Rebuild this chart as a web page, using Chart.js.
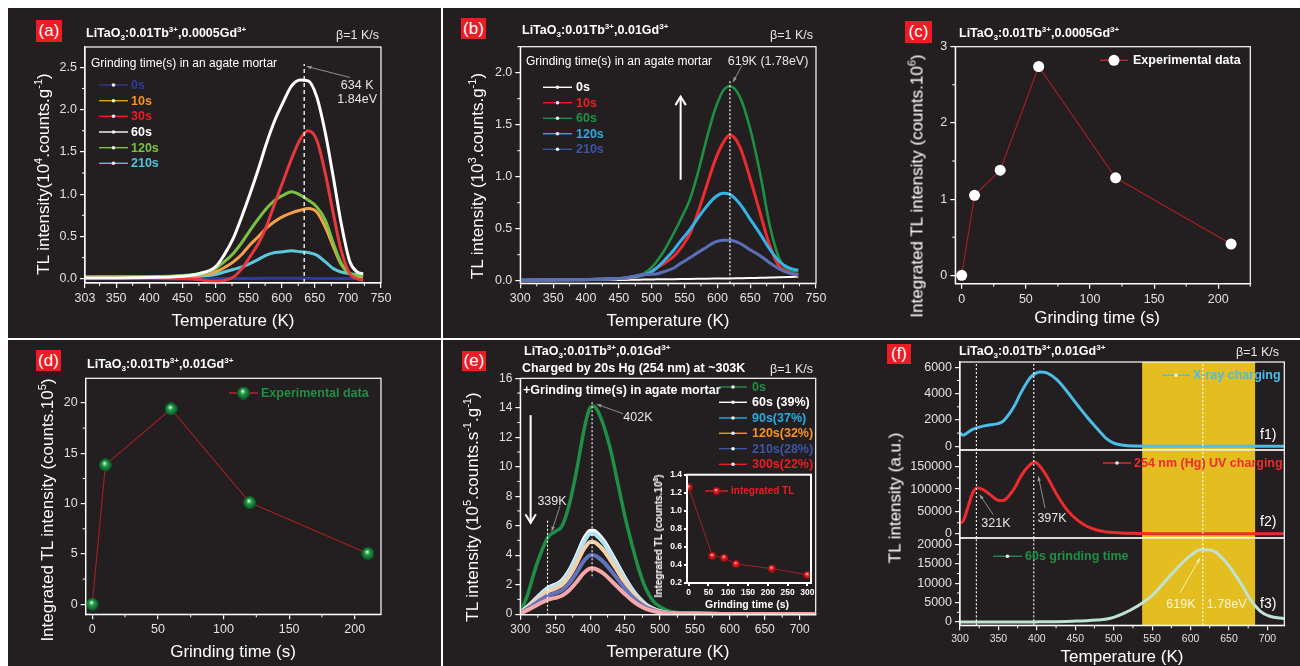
<!DOCTYPE html>
<html>
<head>
<meta charset="utf-8">
<script src="https://cdn.jsdelivr.net/npm/chart.js@4.4.1/dist/chart.umd.min.js"></script>
<style>
  html, body { margin: 0; padding: 0; background: #fff; }
  #fig { position: relative; width: 1300px; height: 666px; background: #fff; overflow: hidden;
    font-family: "Liberation Sans", Arial, Helvetica, sans-serif; }
  .blk { position: absolute; background: #231f20; }
  canvas { position: absolute; left: 0; top: 0; }
  .t { position: absolute; white-space: nowrap; line-height: 1; color: #fff; transform: translateY(-50%); }
  .r { transform: translate(-100%, -50%); }
  .c { transform: translate(-50%, -50%); }
  .yl { position: absolute; white-space: nowrap; line-height: 1; color: #fff; font-size: 17px;
    transform: translate(-50%, -50%) rotate(-90deg); }
  .xl { font-size: 17px; }
  .ttl { font-weight: bold; font-size: 12.5px; }
  .beta { font-size: 12.5px; color: #e8e8e8; }
  .lab { position: absolute; background: #ed1c24; color: #fff; font-size: 17px; text-align: center; }
  sup, sub { font-size: 65%; line-height: 0; }
</style>
</head>
<body>
<div id="fig">
  <div class="blk" style="left:8px;top:8px;width:433px;height:330px"></div>
  <div class="blk" style="left:443px;top:8px;width:857px;height:330px"></div>
  <div class="blk" style="left:8px;top:339.5px;width:433px;height:326.5px"></div>
  <div class="blk" style="left:443px;top:339.5px;width:857px;height:326.5px"></div>

  <canvas id="cA" width="1300" height="666"></canvas>
  <canvas id="cB" width="1300" height="666"></canvas>
  <canvas id="cC" width="1300" height="666"></canvas>
  <canvas id="cD" width="1300" height="666"></canvas>
  <canvas id="cE" width="1300" height="666"></canvas>
  <canvas id="cEi" width="1300" height="666"></canvas>
  <canvas id="cF1" width="1300" height="666"></canvas>
  <canvas id="cF2" width="1300" height="666"></canvas>
  <canvas id="cF3" width="1300" height="666"></canvas>

  <!-- (a) -->
  <div class="lab" style="left:36px;top:20px;width:26px;height:22px;line-height:22px">(a)</div>
  <div class="t ttl" style="left:86px;top:33px">LiTaO<sub>3</sub>:0.01Tb<sup>3+</sup>,0.0005Gd<sup>3+</sup></div>
  <div class="t r beta" style="left:379px;top:35px">β=1 K/s</div>
  <div class="yl" style="left:43px;top:174px">TL intensity(10<sup>4</sup>.counts.g<sup>-1</sup>)</div>
  <div class="t c xl" style="left:233px;top:320px">Temperature (K)</div>
  <div class="t" style="left:91px;top:63px;font-size:12px">Grinding time(s) in an agate mortar</div>

  <!-- (b) -->
  <div class="lab" style="left:461px;top:18px;width:25px;height:21px;line-height:21px">(b)</div>
  <div class="t ttl" style="left:522px;top:30px">LiTaO<sub>3</sub>:0.01Tb<sup>3+</sup>,0.01Gd<sup>3+</sup></div>
  <div class="t r beta" style="left:813px;top:35px">β=1 K/s</div>
  <div class="yl" style="left:477px;top:176px">TL intensity (10<sup>3</sup>.counts.g<sup>-1</sup>)</div>
  <div class="t c xl" style="left:668px;top:320px">Temperature (K)</div>
  <div class="t" style="left:526px;top:61px;font-size:12px">Grinding time(s) in an agate mortar</div>

  <!-- (c) -->
  <div class="lab" style="left:905px;top:21px;width:27px;height:22px;line-height:22px">(c)</div>
  <div class="t ttl" style="left:959px;top:33px">LiTaO<sub>3</sub>:0.01Tb<sup>3+</sup>,0.0005Gd<sup>3+</sup></div>
  <div class="yl" style="left:917px;top:186px">Integrated TL intensity (counts.10<sup>6</sup>)</div>
  <div class="t c xl" style="left:1097px;top:317px">Grinding time (s)</div>

  <!-- (d) -->
  <div class="lab" style="left:36px;top:350px;width:25px;height:21px;line-height:21px">(d)</div>
  <div class="t ttl" style="left:87px;top:364px">LiTaO<sub>3</sub>:0.01Tb<sup>3+</sup>,0.01Gd<sup>3+</sup></div>
  <div class="yl" style="left:47px;top:510px">Integrated TL intensity (counts.10<sup>5</sup>)</div>
  <div class="t c xl" style="left:233px;top:651px">Grinding time (s)</div>

  <!-- (e) -->
  <div class="lab" style="left:462px;top:351px;width:24px;height:20px;line-height:20px">(e)</div>
  <div class="t ttl" style="left:524px;top:351px">LiTaO<sub>3</sub>:0.01Tb<sup>3+</sup>,0.01Gd<sup>3+</sup></div>
  <div class="t ttl" style="left:522px;top:368px">Charged by 20s Hg (254 nm) at ~303K</div>
  <div class="t r beta" style="left:813px;top:369px">β=1 K/s</div>
  <div class="yl" style="left:472px;top:507px">TL intensity (10<sup>5</sup>.counts.s<sup>-1</sup>.g<sup>-1</sup>)</div>
  <div class="t c xl" style="left:668px;top:651px">Temperature (K)</div>
  <div class="t ttl" style="left:523px;top:390px">+Grinding time(s) in agate mortar</div>
  <div class="yl" style="left:659px;top:536px;font-size:10px;font-weight:bold">Integrated TL (counts.10<sup>8</sup>)</div>
  <div class="t c" style="left:747px;top:604px;font-size:10.5px;font-weight:bold">Grinding time (s)</div>

  <!-- (f) -->
  <div class="lab" style="left:887px;top:344px;width:24px;height:20px;line-height:20px">(f)</div>
  <div class="t ttl" style="left:959px;top:351px">LiTaO<sub>3</sub>:0.01Tb<sup>3+</sup>,0.01Gd<sup>3+</sup></div>
  <div class="t r beta" style="left:1279px;top:352px">β=1 K/s</div>
  <div class="yl" style="left:895px;top:498px">TL intensity (a.u.)</div>
  <div class="t c xl" style="left:1122px;top:656px">Temperature (K)</div>
  <div class="t" style="left:1260px;top:434px;font-size:14px">f1)</div>
  <div class="t" style="left:1260px;top:521px;font-size:14px">f2)</div>
  <div class="t" style="left:1260px;top:603px;font-size:14px">f3)</div>
</div>

<script>
// (a) LiTaO3:0.01Tb,0.0005Gd - TL glow curves, 10^4 counts/g
const tA = [303, 350, 400, 450, 475, 500, 513, 527, 540, 552, 565, 577, 590, 603, 615, 628, 640, 653, 666, 678, 690, 703, 714, 723];
const a0s = [0, 0, 0, 0, 0, 0.002, 0.003, 0.003, 0.004, 0.004, 0.005, 0.005, 0.005, 0.005, 0.005, 0.005, 0.005, 0.004, 0.004, 0.004, 0.003, 0.003, 0.002, 0.002];
const a10s = [0.02, 0.02, 0.02, 0.025, 0.04, 0.08, 0.13, 0.2, 0.29, 0.4, 0.5, 0.6, 0.68, 0.74, 0.78, 0.81, 0.83, 0.79, 0.61, 0.38, 0.17, 0.06, 0.03, 0.02];
const a30s = [0.01, 0.01, 0.005, 0, -0.01, -0.03, -0.02, 0.02, 0.12, 0.26, 0.42, 0.62, 0.9, 1.17, 1.42, 1.65, 1.75, 1.64, 1.24, 0.77, 0.33, 0.06, 0, -0.02];
const a60s = [0.01, 0.01, 0.015, 0.03, 0.06, 0.14, 0.28, 0.48, 0.74, 1.0, 1.3, 1.6, 1.88, 2.1, 2.28, 2.35, 2.34, 2.15, 1.72, 1.2, 0.65, 0.2, 0.08, 0.06];
const a120s = [0.015, 0.02, 0.025, 0.04, 0.06, 0.12, 0.2, 0.3, 0.43, 0.57, 0.71, 0.83, 0.93, 0.99, 1.03, 0.99, 0.93, 0.85, 0.69, 0.42, 0.18, 0.06, 0.04, 0.04];
const a210s = [0.02, 0.02, 0.02, 0.025, 0.03, 0.05, 0.08, 0.11, 0.14, 0.18, 0.23, 0.28, 0.31, 0.32, 0.33, 0.32, 0.31, 0.28, 0.2, 0.12, 0.08, 0.06, 0.05, 0.04];
const aXTicks = [303, 350, 400, 450, 500, 550, 600, 650, 700, 750];
const aYTicks = [0, 0.5, 1, 1.5, 2, 2.5];

// (b) LiTaO3:0.01Tb,0.01Gd - TL glow curves, 10^3 counts/g
const tB = [300, 350, 400, 450, 470, 482, 495, 507, 520, 533, 545, 558, 570, 583, 596, 609, 619, 634, 649, 665, 680, 695, 710, 723];
const b0s = [0.005, 0.005, 0.006, 0.007, 0.008, 0.01, 0.012, 0.013, 0.014, 0.015, 0.016, 0.017, 0.018, 0.019, 0.02, 0.021, 0.022, 0.024, 0.026, 0.028, 0.03, 0.032, 0.035, 0.038];
const b10s = [0.005, 0.008, 0.01, 0.02, 0.03, 0.05, 0.07, 0.12, 0.17, 0.23, 0.32, 0.45, 0.65, 0.9, 1.15, 1.33, 1.4, 1.29, 1.0, 0.65, 0.33, 0.13, 0.08, 0.05];
const b60s = [0.005, 0.008, 0.01, 0.02, 0.03, 0.05, 0.1, 0.18, 0.3, 0.45, 0.6, 0.78, 1.03, 1.35, 1.64, 1.83, 1.87, 1.77, 1.48, 1.03, 0.52, 0.2, 0.1, 0.09];
const b120s = [0.005, 0.008, 0.01, 0.02, 0.035, 0.05, 0.07, 0.12, 0.2, 0.29, 0.39, 0.49, 0.6, 0.71, 0.8, 0.84, 0.83, 0.74, 0.6, 0.45, 0.3, 0.18, 0.12, 0.1];
const b210s = [0.005, 0.008, 0.012, 0.02, 0.04, 0.055, 0.06, 0.065, 0.09, 0.12, 0.17, 0.22, 0.27, 0.32, 0.37, 0.39, 0.39, 0.36, 0.3, 0.24, 0.17, 0.11, 0.07, 0.06];
const bXTicks = [300, 350, 400, 450, 500, 550, 600, 650, 700, 750];
const bYTicks = [0, 0.5, 1, 1.5, 2];

// (c) integrated TL, 10^6 counts
const cTime = [0, 10, 30, 60, 120, 210];
const cVal = [0, 1.05, 1.38, 2.74, 1.28, 0.41];
const cXTicks = [0, 50, 100, 150, 200];
const cYTicks = [0, 1, 2, 3];

// (d) integrated TL, 10^5 counts
const dTime = [0, 10, 60, 120, 210];
const dVal = [0, 13.84, 19.4, 10.1, 5.03];
const dXTicks = [0, 50, 100, 150, 200];
const dYTicks = [0, 5, 10, 15, 20];

// (e) UV charged + grinding, 10^5 counts/s/g
const tE = [300, 310, 320, 330, 340, 350, 360, 370, 380, 390, 395, 400, 405, 410, 420, 430, 440, 450, 460, 470, 480, 490, 500, 510, 525, 550, 600, 650, 700, 723];
const e0s = [0.1, 1.25, 2.85, 4.2, 5.25, 5.6, 6.0, 7.4, 9.6, 12.2, 13.3, 14.0, 14.1, 13.85, 12.7, 11.0, 8.8, 6.6, 4.7, 3.0, 1.7, 0.9, 0.5, 0.25, 0.1, 0.05, 0.02, 0.01, 0.01, 0.01];
const e60s = [0.1, 0.5, 0.95, 1.4, 1.8, 2.0, 2.3, 2.95, 3.9, 5.0, 5.4, 5.65, 5.65, 5.5, 4.95, 4.15, 3.3, 2.45, 1.7, 1.1, 0.65, 0.38, 0.2, 0.1, 0.05, 0.02, 0.01, 0, 0, 0];
const e90s = [0.1, 0.48, 0.92, 1.35, 1.74, 1.93, 2.22, 2.85, 3.76, 4.82, 5.2, 5.45, 5.45, 5.3, 4.78, 4.0, 3.18, 2.36, 1.64, 1.06, 0.63, 0.37, 0.19, 0.1, 0.05, 0.02, 0.01, 0, 0, 0];
const e120s = [0.09, 0.43, 0.82, 1.2, 1.55, 1.73, 1.99, 2.56, 3.38, 4.33, 4.68, 4.9, 4.9, 4.77, 4.29, 3.6, 2.86, 2.12, 1.47, 0.95, 0.56, 0.33, 0.17, 0.09, 0.04, 0.02, 0.01, 0, 0, 0];
const e210s = [0.07, 0.35, 0.67, 0.99, 1.27, 1.42, 1.63, 2.09, 2.76, 3.54, 3.82, 4.0, 4.0, 3.89, 3.5, 2.94, 2.34, 1.73, 1.2, 0.78, 0.46, 0.27, 0.14, 0.07, 0.04, 0.01, 0.01, 0, 0, 0];
const e300s = [0.05, 0.27, 0.52, 0.77, 0.99, 1.1, 1.26, 1.62, 2.14, 2.75, 2.96, 3.1, 3.1, 3.02, 2.72, 2.28, 1.81, 1.35, 0.93, 0.6, 0.36, 0.21, 0.11, 0.05, 0.03, 0.01, 0, 0, 0, 0];
const eXTicks = [300, 350, 400, 450, 500, 550, 600, 650, 700];
const eYTicks = [0, 2, 4, 6, 8, 10, 12, 14, 16];
// (e) inset: integrated TL, 10^8 counts
const eiTime = [0, 60, 90, 120, 210, 300];
const eiVal = [1.26, 0.50, 0.48, 0.41, 0.36, 0.29];
const eiXTicks = [0, 50, 100, 150, 200, 250, 300];
const eiYTicks = [0.2, 0.4, 0.6, 0.8, 1.0, 1.2, 1.4];

// (f) X-ray / UV / grinding, a.u.
const tF = [300, 304, 310, 317, 323, 330, 340, 348, 356, 365, 372, 378, 385, 391, 397, 404, 413, 426, 439, 452, 465, 478, 491, 500, 513, 530, 550, 575, 600, 615, 630, 647, 665, 678, 691, 703, 722];
const fXray = [1013, 840, 1050, 1300, 1420, 1530, 1640, 1700, 1900, 2530, 3200, 3920, 4650, 5190, 5500, 5645, 5570, 5060, 4180, 3200, 2250, 1380, 560, 250, 80, 20, 0, 0, 0, 0, 0, 0, 0, 0, 0, 0, 0];
const fUV = [24500, 28200, 58000, 93600, 102500, 98800, 86500, 76000, 74300, 87700, 105000, 124800, 143000, 154000, 160500, 150800, 128500, 87700, 54200, 31900, 17100, 8900, 4500, 3000, 1800, 1200, 700, 500, 500, 500, 500, 500, 500, 500, 500, 500, 500];
const fGrind = [0, 0, 0, 0, 0, 0, 0, 0, 0, 0, 0, 0, 0, 10, 20, 30, 50, 80, 150, 250, 330, 500, 780, 1200, 2200, 4000, 6800, 12300, 17200, 18700, 18280, 15260, 10090, 5780, 2760, 1470, 860];
const fXTicks = [300, 350, 400, 450, 500, 550, 600, 650, 700];
const f1YTicks = [0, 2000, 4000, 6000];
const f2YTicks = [0, 50000, 100000, 150000];
const f3YTicks = [0, 5000, 10000, 15000, 20000];

const W = 1300, H = 666;
const FONT = '"Liberation Sans", Arial, Helvetica, sans-serif';
Chart.defaults.font.family = FONT;
Chart.defaults.color = '#e0e0e0';

function xy(t, v) {
  return t.map((x, i) => ({ x: x, y: v[i] }));
}

function curve(t, v, color, w) {
  return { data: xy(t, v), borderColor: color, backgroundColor: color, borderWidth: w || 3,
    pointRadius: 0, cubicInterpolationMode: 'monotone' };
}

// shaded ball marker
function sphere(d, dark, mid, light) {
  const c = document.createElement('canvas');
  c.width = c.height = d;
  const g = c.getContext('2d');
  const r = d / 2;
  const grad = g.createRadialGradient(r * 0.85, r * 0.7, r * 0.05, r, r, r);
  grad.addColorStop(0, light);
  grad.addColorStop(0.35, mid);
  grad.addColorStop(1, dark);
  g.fillStyle = grad;
  g.beginPath();
  g.arc(r, r, r, 0, Math.PI * 2);
  g.fill();
  return c;
}
const greenBall = sphere(13, '#0a5022', '#22a04a', '#f0fff0');
const redBall = sphere(8, '#8c0a0e', '#e8282c', '#ffe0e0');

function scale(min, max, ticks, fmt, fs, fitKey, fitVal, o) {
  o = o || {};
  const s = {
    type: 'linear', min: min, max: max, display: o.display !== false,
    afterBuildTicks: a => { a.ticks = ticks.map(v => ({ value: v })); },
    ticks: { font: { size: fs, weight: o.bold ? 'bold' : 'normal' }, color: o.color || '#e0e0e0',
      padding: o.pad || 3, maxRotation: 0, autoSkip: false, callback: v => (fmt ? fmt(v) : String(v)) },
    grid: { drawOnChartArea: false, color: '#fff', tickLength: o.tl || 5, lineWidth: o.lw || 1.2 },
    border: { color: '#fff', width: o.lw || 1.2 }
  };
  if (fitVal != null) s.afterFit = a => { a[fitKey] = fitVal; };
  return s;
}

function arrow(ctx, x0, y0, x1, y1, color, lw, hs, open) {
  ctx.strokeStyle = color;
  ctx.fillStyle = color;
  ctx.lineWidth = lw;
  ctx.setLineDash([]);
  ctx.beginPath();
  ctx.moveTo(x0, y0);
  ctx.lineTo(x1, y1);
  ctx.stroke();
  const a = Math.atan2(y1 - y0, x1 - x0);
  const sp = open ? 0.55 : 0.35;
  ctx.beginPath();
  ctx.moveTo(x1 - hs * Math.cos(a - sp), y1 - hs * Math.sin(a - sp));
  ctx.lineTo(x1, y1);
  ctx.lineTo(x1 - hs * Math.cos(a + sp), y1 - hs * Math.sin(a + sp));
  if (open) ctx.stroke();
  else { ctx.closePath(); ctx.fill(); }
}

// frame, minor ticks, bands, marker lines, arrows, labels and legends
const deco = {
  id: 'deco',
  beforeDatasetsDraw(chart, args, o) {
    const { ctx, chartArea: a, scales } = chart;
    ctx.save();
    if (o.bg) {
      ctx.fillStyle = o.bg;
      ctx.fillRect(a.left, a.top, a.right - a.left, a.bottom - a.top);
    }
    (o.bands || []).forEach(b => {
      const x0 = scales.x.getPixelForValue(b.x0), x1 = scales.x.getPixelForValue(b.x1);
      ctx.fillStyle = b.color;
      ctx.fillRect(x0, a.top, x1 - x0, a.bottom - a.top);
    });
    ctx.restore();
  },
  afterDraw(chart, args, o) {
    const { ctx, chartArea: a, scales } = chart;
    const sx = scales.x, sy = scales.y;
    ctx.save();
    // vertical marker lines
    (o.vlines || []).forEach(l => {
      const x = sx.getPixelForValue(l.x);
      ctx.strokeStyle = l.color || '#fff';
      ctx.lineWidth = l.w || 1.1;
      ctx.setLineDash(l.dash || [2, 2]);
      ctx.beginPath();
      ctx.moveTo(x, l.y0 == null ? a.bottom : sy.getPixelForValue(l.y0));
      ctx.lineTo(x, l.y1 == null ? a.top : sy.getPixelForValue(l.y1));
      ctx.stroke();
    });
    ctx.setLineDash([]);
    // frame
    ctx.strokeStyle = '#fff';
    ctx.lineWidth = o.fw || 1.2;
    ctx.strokeRect(a.left, a.top, a.right - a.left, a.bottom - a.top);
    // minor ticks
    ctx.lineWidth = 1;
    const isMajor = (s, v) => s.ticks.some(t => Math.abs(t.value - v) < 1e-6);
    if (o.minorX && sx.options.display) {
      for (let v = Math.ceil(sx.min / o.minorX) * o.minorX; v <= sx.max; v += o.minorX) {
        if (isMajor(sx, v)) continue;
        const x = sx.getPixelForValue(v);
        ctx.beginPath(); ctx.moveTo(x, a.bottom); ctx.lineTo(x, a.bottom + 3); ctx.stroke();
      }
    }
    if (o.minorY) {
      for (let v = Math.ceil(sy.min / o.minorY) * o.minorY; v <= sy.max; v += o.minorY) {
        if (isMajor(sy, v)) continue;
        const y = sy.getPixelForValue(v);
        ctx.beginPath(); ctx.moveTo(a.left, y); ctx.lineTo(a.left - 3, y); ctx.stroke();
      }
    }
    // arrows
    (o.arrows || []).forEach(r => {
      arrow(ctx, sx.getPixelForValue(r.x0), sy.getPixelForValue(r.y0), sx.getPixelForValue(r.x1),
        sy.getPixelForValue(r.y1), r.color || '#9a9a9a', r.lw || 0.9, r.hs || 5, r.open);
    });
    // text labels
    (o.texts || []).forEach(t => {
      ctx.font = t.font || '12.5px ' + FONT;
      ctx.fillStyle = t.color || '#e6e6e6';
      ctx.textAlign = 'center';
      ctx.textBaseline = 'middle';
      ctx.fillText(t.text, sx.getPixelForValue(t.x), sy.getPixelForValue(t.y));
    });
    // legend
    if (o.legend) {
      const L = o.legend;
      ctx.font = L.font || 'bold 12.5px ' + FONT;
      ctx.textAlign = 'left';
      ctx.textBaseline = 'middle';
      L.items.forEach((it, i) => {
        const y = L.ys[i];
        ctx.strokeStyle = it.color;
        ctx.lineWidth = L.lw || 1.4;
        ctx.beginPath(); ctx.moveTo(L.x, y); ctx.lineTo(L.x + L.len, y); ctx.stroke();
        const cx = L.x + L.len / 2;
        if (it.img) ctx.drawImage(it.img, cx - it.img.width / 2, y - it.img.height / 2);
        else {
          ctx.fillStyle = it.dot || '#f4f4f4';
          ctx.beginPath(); ctx.arc(cx, y, it.r || 1.8, 0, Math.PI * 2); ctx.fill();
        }
        ctx.fillStyle = it.text || it.color;
        ctx.fillText(it.label, L.tx, y + 0.5);
      });
    }
    ctx.restore();
  }
};
Chart.register(deco);

function make(id, area, wy, hx, datasets, scales, dec) {
  return new Chart(document.getElementById(id), {
    type: 'line',
    data: { datasets: datasets },
    options: {
      responsive: false, animation: false, devicePixelRatio: 1,
      layout: { padding: { left: area.l - wy, top: area.t, right: W - area.r, bottom: H - area.b - hx } },
      scales: scales,
      plugins: { legend: { display: false }, tooltip: { enabled: false }, deco: dec }
    }
  });
}

const f1 = v => v.toFixed(1);

// ---- (a)
make('cA', { l: 85, t: 47, r: 381, b: 283 }, 40, 22, [
  curve(tA, a60s, '#ffffff'),
  curve(tA, a30s, '#e8383d'),
  curve(tA, a120s, '#7cc242'),
  curve(tA, a10s, '#f7a04a'),
  curve(tA, a210s, '#5bc8dc'),
  curve(tA, a0s, '#2e3d94')
], {
  x: scale(303, 750, aXTicks, null, 12.5, 'height', 22),
  y: scale(-0.05, 2.74, aYTicks, f1, 12.5, 'width', 40)
}, {
  minorX: 25, minorY: 0.25,
  vlines: [{ x: 634, y1: 2.54, dash: [4, 3], w: 1.3 }],
  arrows: [{ x0: 703, y0: 2.38, x1: 638, y1: 2.51 }],
  texts: [{ x: 714, y: 2.29, text: '634 K' }, { x: 714, y: 2.12, text: '1.84eV' }],
  legend: { x: 99, len: 29, tx: 131, ys: [85, 100.7, 116.3, 132, 147.7, 163.3], items: [
    { label: '0s', color: '#2e3d94' },
    { label: '10s', color: '#f7941d' },
    { label: '30s', color: '#ed1c24' },
    { label: '60s', color: '#ffffff' },
    { label: '120s', color: '#7cc242' },
    { label: '210s', color: '#4fc4de' }
  ] }
});

// ---- (b)
make('cB', { l: 520.3, t: 46.7, r: 816, b: 283.3 }, 40, 22, [
  curve(tB, b210s, '#5a6fb6'),
  curve(tB, b120s, '#35b3e8'),
  curve(tB, b10s, '#ee2a2f'),
  curve(tB, b60s, '#1f8f45', 2.6),
  curve(tB, b0s, '#ffffff', 2)
], {
  x: scale(300, 750, bXTicks, null, 12.5, 'height', 22),
  y: scale(-0.025, 2.25, bYTicks, f1, 12.5, 'width', 40)
}, {
  minorX: 25, minorY: 0.25,
  vlines: [{ x: 619, y1: 1.92, dash: [2, 2], w: 1.2 }],
  arrows: [
    { x0: 637.4, y0: 2.07, x1: 623.7, y1: 1.91 },
    { x0: 544, y0: 0.97, x1: 544, y1: 1.77, color: '#ffffff', lw: 2, hs: 10, open: true }
  ],
  texts: [{ x: 677, y: 2.11, text: '619K (1.78eV)' }],
  legend: { x: 543, len: 29, tx: 576, ys: [87.3, 102.7, 118.3, 133.7, 149.3], items: [
    { label: '0s', color: '#ffffff' },
    { label: '10s', color: '#ed1c24' },
    { label: '60s', color: '#1f8f45' },
    { label: '120s', color: '#29abe2' },
    { label: '210s', color: '#3c55a5' }
  ] }
});

// ---- (c)
make('cC', { l: 955.3, t: 46.7, r: 1250.3, b: 283.7 }, 40, 22, [
  { data: xy(cTime, cVal), borderColor: '#a81e22', borderWidth: 1.1, pointRadius: 5.5,
    pointBackgroundColor: '#ffffff', pointBorderWidth: 0, tension: 0 }
], {
  x: scale(-5, 225, cXTicks, null, 12.5, 'height', 22),
  y: scale(-0.11, 3, cYTicks, null, 12.5, 'width', 40)
}, {
  minorX: 25, minorY: 0.5,
  legend: { x: 1100, len: 28, tx: 1133, ys: [60.3], items: [
    { label: 'Experimental data', color: '#c0262b', text: '#ffffff', dot: '#ffffff', r: 5.5 }
  ] }
});

// ---- (d)
make('cD', { l: 85.7, t: 378.3, r: 381, b: 614.3 }, 40, 22, [
  { data: xy(dTime, dVal), borderColor: '#a81e22', borderWidth: 1.1, pointStyle: greenBall,
    pointRadius: 6, tension: 0 }
], {
  x: scale(-5, 220, dXTicks, null, 12.5, 'height', 22),
  y: scale(-1, 22.45, dYTicks, null, 12.5, 'width', 40)
}, {
  minorX: 25, minorY: 2.5,
  legend: { x: 229, len: 29, tx: 261, ys: [393], items: [
    { label: 'Experimental data', color: '#c0262b', text: '#1f8f45', img: greenBall }
  ] }
});

// ---- (e)
make('cE', { l: 520.3, t: 378.3, r: 815.7, b: 614.7 }, 40, 22, [
  curve(tE, e300s, '#f5a7aa', 4),
  curve(tE, e210s, '#5f74bc', 4),
  curve(tE, e120s, '#f9cfa9', 4),
  curve(tE, e90s, '#b3e2f5', 4),
  curve(tE, e60s, '#ffffff', 4),
  curve(tE, e0s, '#1f8f45', 3.5)
], {
  x: scale(300, 723, eXTicks, null, 12, 'height', 22),
  y: scale(-0.04, 16, eYTicks, null, 12, 'width', 40)
}, {
  minorX: 25, minorY: 1,
  vlines: [{ x: 339, y1: 6.4 }, { x: 402.8, y0: 2.57, y1: 14.4 }],
  arrows: [
    { x0: 447, y0: 13.6, x1: 409.4, y1: 14.24 },
    { x0: 356.9, y0: 7.34, x1: 345, y1: 5.62 },
    { x0: 314.8, y0: 13.5, x1: 314.8, y1: 6.2, color: '#ffffff', lw: 2, hs: 10, open: true }
  ],
  texts: [{ x: 468.5, y: 13.37, text: '402K' }, { x: 345.4, y: 7.66, text: '339K' }],
  legend: { x: 719, len: 28, tx: 752, ys: [387, 402.3, 418, 433.3, 448.7, 464.3], items: [
    { label: '0s', color: '#1f8f45' },
    { label: '60s (39%)', color: '#ffffff' },
    { label: '90s(37%)', color: '#29abe2' },
    { label: '120s(32%)', color: '#f7941d' },
    { label: '210s(28%)', color: '#3c55a5' },
    { label: '300s(22%)', color: '#ed1c24' }
  ] }
});

// ---- (e) inset
make('cEi', { l: 687, t: 474.7, r: 811, b: 583 }, 28, 14, [
  { data: xy(eiTime, eiVal), borderColor: '#a81e22', borderWidth: 1, pointStyle: redBall,
    pointRadius: 4, tension: 0 }
], {
  x: scale(-4, 309, eiXTicks, null, 8.5, 'height', 14, { bold: true, color: '#fff', tl: 3, pad: 2, lw: 2 }),
  y: scale(0.2, 1.4, eiYTicks, f1, 8.5, 'width', 28, { bold: true, color: '#fff', tl: 3, pad: 2, lw: 2 })
}, {
  bg: '#231f20', fw: 2,
  legend: { x: 705, len: 23, tx: 731, ys: [491], font: 'bold 10px ' + FONT, items: [
    { label: 'integrated TL', color: '#ed1c24', img: redBall }
  ] }
});

// ---- (f) three stacked panels sharing the temperature axis
const fArea = { l: 960, r: 1284.3 };
const fDeco = (extra) => Object.assign({
  minorX: 25,
  bands: [{ x0: 537, x1: 684, color: '#e4bd21' }],
  vlines: [{ x: 321.3 }, { x: 396 }, { x: 616 }]
}, extra);

make('cF1', { l: fArea.l, r: fArea.r, t: 362, b: 450 }, 60, 0, [
  curve(tF, fXray, '#4dbce9')
], {
  x: scale(300, 722, fXTicks, null, 10.5, 'height', null, { display: false }),
  y: scale(-280, 6400, f1YTicks, null, 12.5, 'width', 60)
}, fDeco({
  minorY: 1000,
  legend: { x: 1162, len: 28, tx: 1193, ys: [375.3], items: [{ label: 'X-ray charging', color: '#4dbce9' }] }
}));

make('cF2', { l: fArea.l, r: fArea.r, t: 450, b: 538 }, 60, 0, [
  curve(tF, fUV, '#ee2a2f')
], {
  x: scale(300, 722, fXTicks, null, 10.5, 'height', null, { display: false }),
  y: scale(-9000, 187000, f2YTicks, null, 12.5, 'width', 60)
}, fDeco({
  minorY: 25000,
  arrows: [
    { x0: 343.2, y0: 43000, x1: 325.6, y1: 87500 },
    { x0: 410.6, y0: 57900, x1: 401.9, y1: 128500 }
  ],
  texts: [{ x: 346.8, y: 22900, text: '321K' }, { x: 419.7, y: 33400, text: '397K' }],
  legend: { x: 1103, len: 28, tx: 1134, ys: [463], items: [{ label: '254 nm (Hg) UV charging', color: '#ee2a2f' }] }
}));

make('cF3', { l: fArea.l, r: fArea.r, t: 538, b: 625.3 }, 60, 20, [
  curve(tF, fGrind, '#bfe3d0')
], {
  x: scale(300, 722, fXTicks, null, 10.5, 'height', 20),
  y: scale(-860, 21700, f3YTicks, null, 12.5, 'width', 60)
}, fDeco({
  minorY: 2500,
  arrows: [{ x0: 586.2, y0: 7490, x1: 612.2, y1: 16540, color: '#f6f0c0' }],
  texts: [
    { x: 587.5, y: 4470, text: '619K', color: '#fbf6dc' },
    { x: 647, y: 4470, text: '1.78eV', color: '#fbf6dc' }
  ],
  legend: { x: 993, len: 29, tx: 1025, ys: [556.3], items: [{ label: '60s grinding time', color: '#1f8f45' }] }
}));
</script>
</body>
</html>
